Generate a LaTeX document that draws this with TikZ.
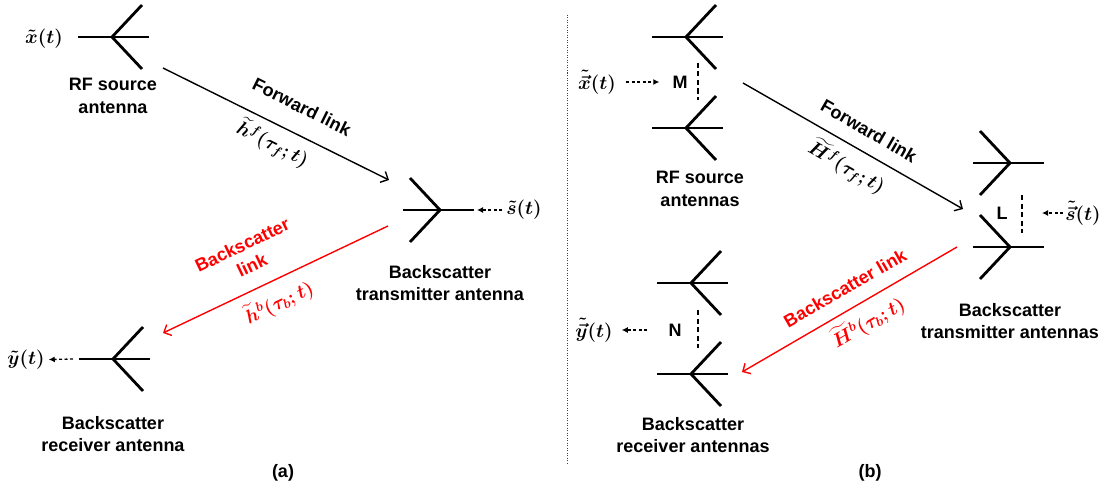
\documentclass[tikz,border=0pt]{standalone}
\usepackage{amsmath}
\usepackage{fontspec}
\setmainfont{Liberation Sans}
\usetikzlibrary{arrows.meta}

\newcommand{\sigm}[1]{\scalebox{1.12}{$#1$}}

\tikzset{
	ant/.style={line width=2.8pt},
	antenna/.pic={
		\draw[ant] (-34,0) -- (37,0);
		\draw[ant] (30,-32) -- (0,0) -- (30,32);
	},
	link/.style={line width=1.4pt,-{Straight Barb[length=6pt,width=12pt]}},
	feed/.style={line width=1.3pt,dash pattern=on 3pt off 2.5pt,-{Latex[length=6pt,width=6pt]}},
	array/.style={line width=2.6pt,dash pattern=on 5pt off 3.5pt},
	lbl/.style={font=\fontsize{18}{22.5}\selectfont\bfseries,align=center,inner sep=0pt},
	sym/.style={font=\fontsize{17.28}{22}\selectfont\boldmath,inner sep=0pt},
}

\begin{document}
\begin{tikzpicture}[x=1pt,y=-1pt]
	\useasboundingbox (0,0) rectangle (1114,487);

	\pic at (112,37) {antenna};
	\pic[xscale=-1] at (440,210) {antenna};
	\pic at (113,359) {antenna};

	\node[sym] (xa) at (44,39) {\sigm{\tilde{x}(t)}};
	\node[sym] (sa) at (524,210) {\sigm{\tilde{s}(t)}};
	\node[sym] (ya) at (26,360) {\sigm{\tilde{y}(t)}};
	\node[lbl] (srcA) at (113,96) {RF source\\antenna};
	\node[lbl] (txA) at (440,283) {Backscatter\\transmitter antenna};
	\node[lbl] (rxA) at (113,434) {Backscatter\\receiver antenna};
	\node[lbl] (capA) at (283,473) {(a)};

	\coordinate (srcAout) at (163,68);
	\coordinate (txAin) at (389,180);
	\coordinate (txAout) at (388,226);
	\coordinate (rxAin) at (163,333);
	\coordinate (txAfeed) at (477,210);
	\coordinate (rxAfeed) at (73,359);

	\draw[link] (srcAout) -- (txAin);
	\draw[link,red] (txAout) -- (rxAin);
	\node[lbl,rotate=-26.4] (fwdA) at (302,107) {Forward link};
	\node[sym,rotate=-26.4] (hfA) at (273,144) {\sigm{\widetilde{h}^{f}(\tau_{f};t)}};
	\node[lbl,red,rotate=25.4] (bsA) at (247,255) {Backscatter\\link};
	\node[sym,red,rotate=25.4] (hbA) at (279,302) {\sigm{\widetilde{h}^{b}(\tau_{b};t)}};

	\draw[feed,shorten <=4pt] (sa) -- (txAfeed);
	\draw[feed,shorten >=4pt] (rxAfeed) -- (ya);

	\draw[line width=0.9pt,black!75,dash pattern=on 1pt off 1.5pt] (567,15) -- (567,464);

	\pic at (686,37) {antenna};
	\pic at (686,128) {antenna};
	\pic[xscale=-1] at (1010,163) {antenna};
	\pic[xscale=-1] at (1010,247) {antenna};
	\pic at (691,283) {antenna};
	\pic at (691,374) {antenna};

	\draw[array] (698,63) -- (698,100);
	\draw[array] (1022,195) -- (1022,233);
	\draw[array] (698,310) -- (698,348);

	\node[sym] (xb) at (597,82) {\sigm{\tilde{\vec{x}}(t)}};
	\node[sym] (sb) at (1083,213) {\sigm{\tilde{\vec{s}}(t)}};
	\node[sym] (yb) at (594,330) {\sigm{\tilde{\vec{y}}(t)}};
	\node[lbl] (M) at (680,82) {M};
	\node[lbl] (L) at (1002,213) {L};
	\node[lbl] (N) at (675,330) {N};
	\node[lbl] (srcB) at (700,189) {RF source\\antennas};
	\node[lbl] (txB) at (1010,321) {Backscatter\\transmitter antennas};
	\node[lbl] (rxB) at (693,435) {Backscatter\\receiver antennas};
	\node[lbl] (capB) at (870,473) {(b)};

	\coordinate (srcBout) at (743,83);
	\coordinate (txBin) at (963,209);
	\coordinate (txBout) at (957,247);
	\coordinate (rxBin) at (742,372);
	\coordinate (txBfeed) at (1042,213);

	\draw[link] (srcBout) -- (txBin);
	\draw[link,red] (txBout) -- (rxBin);
	\node[lbl,rotate=-30] (fwdB) at (869,131) {Forward link};
	\node[sym,rotate=-30] (hfB) at (847,167) {\sigm{\widetilde{H}^{f}(\tau_{f};t)}};
	\node[lbl,red,rotate=30] (bsB) at (845,288) {Backscatter link};
	\node[sym,red,rotate=30] (hbB) at (868,322) {\sigm{\widetilde{H}^{b}(\tau_{b};t)}};

	\draw[feed,shorten <=10pt,shorten >=13pt] (xb) -- (M);
	\draw[feed,shorten <=21pt,shorten >=9pt] (N) -- (yb);
	\draw[feed,shorten <=2pt] (sb) -- (txBfeed);
\end{tikzpicture}
\end{document}
